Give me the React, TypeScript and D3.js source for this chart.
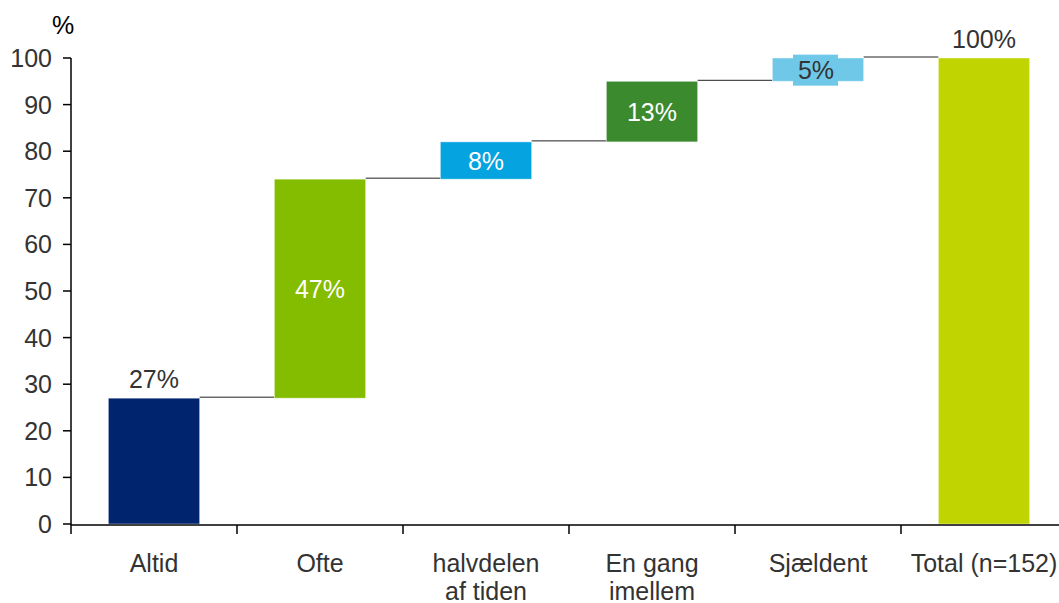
import React from "react";
import * as d3 from "d3";

const categories: string[][] = [["Altid"], ["Ofte"], ["halvdelen", "af tiden"], ["En gang", "imellem"], ["Sjældent"], ["Total (n=152)"]];
const values: number[] = [27, 47, 8, 13, 5, 100];
const isTotal: boolean[] = [false, false, false, false, false, true];
const colors: string[] = ["#00256e", "#84bc00", "#05a3df", "#3c8a2e", "#70c8e8", "#bfd400"];
const labelInside: boolean[] = [false, true, true, true, true, false];
const labelColors: string[] = ["#333", "#fff", "#fff", "#fff", "#333", "#333"];
const yTicks: number[] = [0, 10, 20, 30, 40, 50, 60, 70, 80, 90, 100];

const W = 1059, H = 603;
const FONT = "'Liberation Sans', Arial, sans-serif";
const FS = 25;

export default function App() {
  const keys = categories.map((c) => c.join(" "));
  const x = d3.scaleBand<string>().domain(keys).range([71, 71 + 6 * 166]).paddingInner(0.45).paddingOuter(0.225);
  const y = d3.scaleLinear().domain([0, 100]).range([524, 58]);

  let cum = 0;
  const bars = values.map((v, i) => {
    let y0: number, y1: number;
    if (isTotal[i]) { y0 = 0; y1 = v; }
    else { y0 = cum; y1 = cum + v; cum = y1; }
    return { key: keys[i], y0, y1, v, i };
  });

  const step = x.step();
  const x0 = 71;
  const textColor = "#333";

  return (
    <svg width={W} height={H} style={{ position: "absolute", left: 0, top: 0, background: "#fff" }} fontFamily={FONT}>
      {bars.slice(0, -1).map((b, i) => (
        <line key={"c" + i} x1={(x(b.key) as number) + x.bandwidth()} x2={x(keys[i + 1]) as number}
          y1={y(b.y1) - 1} y2={y(b.y1) - 1} stroke="#222" strokeWidth={1} />
      ))}
      {bars.map((b) => (
        <rect key={"b" + b.i} x={x(b.key)} width={x.bandwidth()} y={y(b.y1)} height={y(b.y0) - y(b.y1)}
          fill={colors[b.i]} stroke="#fff" strokeOpacity={0.5} strokeWidth={0.8} />
      ))}
      {bars.map((b) => {
        const cx = (x(b.key) as number) + x.bandwidth() / 2;
        const ty = labelInside[b.i] ? (y(b.y0) + y(b.y1)) / 2 + 9 : y(b.y1) - 10;
        return (
          <g key={"l" + b.i}>
            {b.i === 4 && (
              <rect x={cx - 25} y={(y(b.y0) + y(b.y1)) / 2 - 15} width={45} height={31} fill={colors[b.i]} />
            )}
            <text x={b.i === 4 ? cx - 2 : cx} y={ty} textAnchor="middle" fontSize={FS} fill={labelColors[b.i]}>
              {b.v}%
            </text>
          </g>
        );
      })}
      <line x1={x0} x2={x0} y1={y(100)} y2={y(0) + 1} stroke="#000" strokeWidth={1.5} />
      {yTicks.map((t) => (
        <g key={"yt" + t}>
          <line x1={63} x2={x0} y1={y(t)} y2={y(t)} stroke="#000" strokeWidth={1.5} />
          <text x={52} y={y(t) + 9} textAnchor="end" fontSize={FS} fill={textColor}>{t}</text>
        </g>
      ))}
      <text x={63} y={34} textAnchor="middle" fontSize={FS} fill="#000">%</text>
      <line x1={x0} x2={W} y1={y(0) + 1} y2={y(0) + 1} stroke="#000" strokeWidth={1.5} />
      {d3.range(0, 7).map((i) => (
        <line key={"xt" + i} x1={x0 + i * step} x2={x0 + i * step} y1={y(0) + 1} y2={y(0) + 10} stroke="#000" strokeWidth={1.5} />
      ))}
      {categories.map((lines, i) => (
        <text key={"xl" + i} x={(x(keys[i]) as number) + x.bandwidth() / 2} y={572} textAnchor="middle" fontSize={FS} fill={textColor}>
          {lines.map((ln, j) => (
            <tspan key={j} x={(x(keys[i]) as number) + x.bandwidth() / 2} dy={j === 0 ? 0 : 28}>{ln}</tspan>
          ))}
        </text>
      ))}
    </svg>
  );
}
